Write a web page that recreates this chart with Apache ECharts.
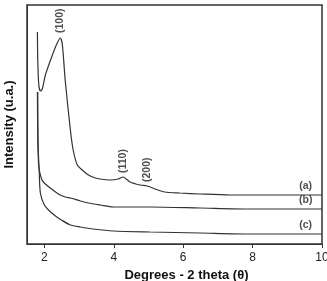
<!DOCTYPE html>
<html>
<head>
<meta charset="utf-8">
<script src="https://cdn.jsdelivr.net/npm/echarts@6/dist/echarts.min.js"></script>
<style>
    html, body { margin: 0; padding: 0; background: #fff; }
    #xrd_chart { width: 327px; height: 281px; }
</style>
</head>
<body>
<div id="xrd_chart"></div>
<script>
    // XRD patterns, [2 theta, intensity (arbitrary)]
    var curveA = [[1.80, 212], [1.81, 184], [1.84, 159], [1.885, 153], [1.94, 155], [2.03, 169], [2.20, 186],
        [2.345, 199], [2.46, 206], [2.52, 199], [2.60, 164], [2.75, 114], [2.83, 94], [2.95, 79], [3.09, 74],
        [3.27, 69], [3.47, 66], [3.61, 65], [3.90, 64], [4.13, 65], [4.27, 67], [4.47, 62], [4.76, 59],
        [4.96, 58], [5.19, 55], [5.47, 52], [5.91, 51], [6.49, 50], [7.35, 49], [8.50, 49], [10, 49]];
    var curveB = [[1.80, 152], [1.805, 124], [1.82, 94], [1.84, 77], [1.91, 66], [1.97, 62], [2.17, 56],
        [2.40, 50], [2.60, 47], [2.75, 46], [3.04, 43], [3.27, 41], [3.61, 39], [3.99, 37], [5.05, 37],
        [6.49, 36], [7.93, 35], [10, 35]];
    var curveC = [[1.81, 152], [1.815, 104], [1.85, 74], [1.885, 51], [2.00, 39], [2.12, 34], [2.32, 28],
        [2.49, 24], [2.75, 19], [3.04, 17], [3.41, 15], [3.99, 13], [5.05, 12], [6.49, 11], [7.93, 10], [10, 10]];
    // reflection labels placed above the peaks
    var peakLabels = [[2.46, 209, '(100)'], [4.27, 69, '(110)'], [4.96, 60, '(200)']];
    // sample labels near the right end
    var sampleLabels = [[9.53, 51, '(a)'], [9.53, 37, '(b)'], [9.53, 12, '(c)']];
    var xTicks = [2, 4, 6, 8, 10];

    var lineColor = '#333';
    var chart = echarts.init(document.getElementById('xrd_chart'));

    function curve(data) {
        return {
            type: 'line',
            data: data,
            showSymbol: false,
            smooth: 0.25,
            lineStyle: {color: lineColor, width: 1.2},
            silent: true
        };
    }

    chart.setOption({
        animation: false,
        grid: {
            left: 27, top: 5, right: 5, bottom: 37,
            outerBoundsMode: 'none',
            containLabel: false,
            show: true,
            borderColor: '#333',
            borderWidth: 1.5
        },
        xAxis: {
            type: 'value',
            min: 1.5,
            max: 10,
            name: 'Degrees - 2 theta (θ)',
            nameLocation: 'middle',
            nameGap: 25,
            nameTextStyle: {
                fontFamily: 'Liberation Sans',
                fontWeight: 'bold',
                fontSize: 13,
                color: '#111',
                padding: [0, 0, 0, 24]
            },
            splitLine: {show: false},
            axisLine: {lineStyle: {color: '#333', width: 1}},
            axisTick: {
                show: true, length: 4, inside: false,
                customValues: xTicks,
                lineStyle: {color: '#333'}
            },
            axisLabel: {
                customValues: xTicks,
                fontFamily: 'Liberation Sans',
                fontSize: 12,
                color: '#222',
                margin: 8
            }
        },
        yAxis: {
            type: 'value',
            min: 0,
            max: 239,
            name: 'Intensity (u.a.)',
            nameLocation: 'middle',
            nameGap: 11,
            nameTextStyle: {
                fontFamily: 'Liberation Sans',
                fontWeight: 'bold',
                fontSize: 13,
                color: '#111'
            },
            splitLine: {show: false},
            axisLine: {show: true, lineStyle: {color: '#333'}},
            axisTick: {show: false},
            axisLabel: {show: false}
        },
        series: [
            curve(curveA),
            curve(curveB),
            curve(curveC),
            {
                type: 'scatter',
                data: peakLabels,
                symbolSize: 0,
                silent: true,
                label: {
                    show: true,
                    position: 'top',
                    rotate: 90,
                    align: 'left',
                    verticalAlign: 'middle',
                    distance: 2,
                    formatter: function (p) { return p.data[2]; },
                    fontFamily: 'Liberation Sans',
                    fontWeight: 'bold',
                    fontSize: 10.5,
                    color: '#222'
                }
            },
            {
                type: 'scatter',
                data: sampleLabels,
                symbolSize: 0,
                silent: true,
                label: {
                    show: true,
                    position: 'top',
                    distance: 1,
                    formatter: function (p) { return p.data[2]; },
                    fontFamily: 'Liberation Sans',
                    fontWeight: 'bold',
                    fontSize: 10.5,
                    color: '#222'
                }
            }
        ]
    });
</script>
</body>
</html>
